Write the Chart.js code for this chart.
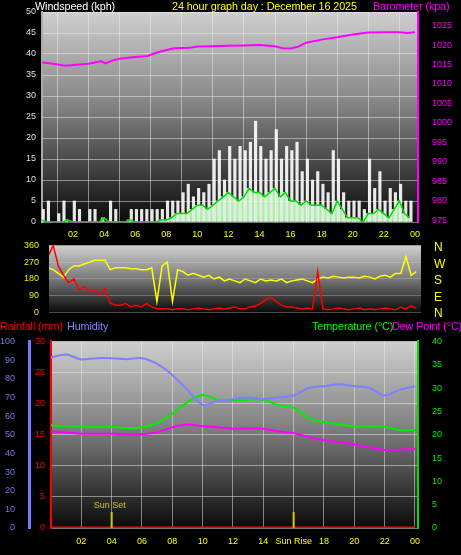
<!DOCTYPE html>
<html><head><meta charset="utf-8">
<script src="https://cdn.jsdelivr.net/npm/chart.js@4"></script>
<style>
body{margin:0;background:#000;width:461px;height:555px;overflow:hidden;font-family:"Liberation Sans",Arial,sans-serif}
canvas{position:absolute;left:0}
.t{position:absolute;font-size:10.8px;white-space:nowrap;line-height:12px;letter-spacing:-0.1px}
</style></head><body>
<canvas id="c1" width="461" height="244" style="top:0"></canvas>
<canvas id="c2" width="461" height="98" style="top:230px"></canvas>
<canvas id="c3" width="461" height="225" style="top:330px"></canvas>
<div class="t" style="left:35px;top:0;color:#fff">Windspeed (kph)</div>
<div class="t" style="left:172px;top:0;color:#ff0">24 hour graph day : December 16 2025</div>
<div class="t" style="left:373px;top:0;color:#f0f">Barometer (kpa)</div>
<div class="t" style="left:0;top:320px;color:#f00">Rainfall (mm)</div>
<div class="t" style="left:67px;top:320px;color:#88f">Humidity</div>
<div class="t" style="left:312px;top:320px;color:#0f0">Temperature (°C)</div>
<div class="t" style="left:392px;top:320px;color:#f0f">Dew Point (°C)</div>
<div class="t" style="left:434px;top:239px;color:#ff0;font-size:12px;line-height:16.5px">N<br>W<br>S<br>E<br>N</div>
<script>
// ---- data (20-minute steps from hour 0) ----
const windGust = [3,5,0, 2,5,0, 5,3,0, 3,3,0, 0,5,3, 0,0,3, 3,3,3, 3,3,3, 5,5,5, 7,9,6, 8,7,9, 15,17,10, 18,15,18, 17,19,24, 18,15,17, 22,15,18, 17,19,12, 15,10,12, 9,7,17, 15,7,5, 5,5,3, 15,8,12, 5,8,7, 9,5,5];
const windAvg = [0.5,0,0, 0,0,0.5, 0,0,0, 0,0,0, 1,0,0, 0,0,0.5, 0,0,0, 0,0,0.5, 0.5,1,2, 2,2,3, 4,4,3, 4,5,6, 7,6,5, 6,8,7, 7,6,7, 8,6,7, 5,5,4, 5,4,4, 4,3,2, 5,3,1, 1,1,0, 2,2,3, 2,1,3, 5,2,1];
const baroHours = [0,0.5,1,1.5,2,3,3.8,4.1,4.5,5,6,6.8,7,7.5,8.5,9.5,10,11,12,13,14,15,15.5,16,16.5,17,18,19,20,21,22,23,23.5,24];
const baroVals = [1015.5,1015.3,1015,1014.7,1014.9,1015.2,1015.8,1015.3,1016,1016.5,1016.9,1017.2,1017.5,1018.2,1019.2,1019.3,1019.6,1019.7,1019.8,1019.9,1020,1019.7,1019.2,1019.1,1019.6,1020.6,1021.4,1022,1022.7,1023.2,1023.3,1023.3,1023.1,1023.3];
const windDir = [280,240,230, 210,190,230, 250,250,260, 270,280,280, 280,230,240, 240,240,235, 235,230,230, 240,60,250, 270,60,230, 220,200,210, 200,190,200, 180,190,170, 180,170,160, 180,170,160, 180,170,175, 170,180,160, 170,175,180, 170,160,180, 190,185,195, 190,185,190, 190,185,195, 190,180,195, 200,190,210, 210,300,200, 220];
const windRed = [150,300,360, 250,200,160, 180,120,140, 110,120,100, 130,50,40, 40,50,30, 40,30,50, 30,20,20, 20,15,20, 20,15,20, 25,20,15, 20,25,20, 25,30,20, 20,30,35, 50,70,80, 60,40,30, 30,25,20, 25,20,220, 20,15,20, 25,20,15, 20,25,15, 20,15,20, 25,20,15, 30,20,35, 25];
const hrs = [0,1,2,3,4,5,6,7,8,9,10,11,12,13,14,15,16,17,18,19,20,21,22,23,24];
const humidity = [91.4,93,90.3,91,91,90.5,91,88,82,74,66,68,69,70,69,70,71,75,76,77,76,75,71,74,76];
const temperature = [22,21.8,21.7,21.7,21.7,21.4,21.6,22.5,24.5,27,28.5,27.5,27.3,27.5,27.5,26.3,25.8,23.5,22.7,22.2,21.8,21.8,21.7,21,21];
const dewPoint = [20.7,20.5,20.2,20.2,20.2,20.1,20.1,20.5,21.6,22.2,21.8,21.6,21.3,21.4,21.3,20.7,20.3,19.5,18.8,18.4,17.9,17.3,16.7,16.8,17];
const rainfall = [0,0,0,0,0,0,0,0,0,0,0,0,0,0,0,0,0,0,0,0,0,0,0,0,0];
const sunEvents = [{h:4,label:'Sun Set'},{h:16,label:'Sun Rise'}];

const pts = (arr, step, off=0) => arr.map((v,i)=>({x:off+i*step,y:v}));
const pairs = (xs, ys) => xs.map((x,i)=>({x, y:ys[i]}));
const F = {family:'"Liberation Sans",Arial,sans-serif', size:9};
const grid = {color:'rgba(235,235,235,0.5)', lineWidth:1, drawTicks:false};
const bgPlugin = {id:'bg', beforeDraw(c){const a=c.chartArea,x=c.ctx;const g=x.createLinearGradient(0,a.top,0,a.bottom);
 g.addColorStop(0,'#cfcfcf');g.addColorStop(0.45,'#828282');g.addColorStop(1,'#0a0a0a');x.save();x.fillStyle=g;x.fillRect(a.left,a.top,a.right-a.left,a.bottom-a.top);x.restore();}};
const hourLabel = v => { if (v<=0.01) return ''; const h=Math.round(v)%24; return (h<10?'0':'')+h; };
function xAxis(min,max,extra){return Object.assign({type:'linear',min,max,position:'bottom',offset:false,
  afterBuildTicks(s){s.ticks=[2,4,6,8,10,12,14,16,18,20,22,24].map(v=>({value:v}));},
  ticks:{color:'#ff0',font:F,padding:7,callback:hourLabel,maxRotation:0,autoSkip:false},
  grid:grid,border:{display:false}},extra||{});}
function fixW(w){return s=>{s.width=w;};}
function fixH(h){return s=>{s.height=h;};}
const base = {responsive:false,animation:false,plugins:{legend:{display:false},tooltip:{enabled:false}},layout:{padding:0}};

// ---- top panel ----
new Chart(document.getElementById('c1'),{
 data:{datasets:[
  {type:'line',data:pairs(baroHours,baroVals),yAxisID:'yb',borderColor:'#f0f',borderWidth:2,pointRadius:0,tension:0},
  {type:'line',data:pts(windAvg,1/3),yAxisID:'y',borderColor:'#00dd00',borderWidth:1.5,pointRadius:0},
  {type:'bar',data:pts(windAvg,1/3),yAxisID:'y',backgroundColor:'rgba(200,255,200,0.9)',barThickness:3},
  {type:'bar',data:pts(windGust,1/3),yAxisID:'y',backgroundColor:'rgba(255,255,255,0.9)',barThickness:2.5}
 ]},
 options:Object.assign({},base,{layout:{padding:{top:12}},scales:{
  x:xAxis(0,24.2,{afterFit:fixH(22)}),
  y:{position:'left',min:0,max:50,afterFit:fixW(42),ticks:{stepSize:5,color:'#dde',font:F,padding:6},grid:grid,border:{color:'#aaa',width:2}},
  yb:{position:'right',min:974.5,max:1028.5,afterFit:fixW(43),afterBuildTicks(s){s.ticks=[975,980,985,990,995,1000,1005,1010,1015,1020,1025].map(v=>({value:v}));},ticks:{color:'#f0f',font:F,padding:6,callback:v=>String(v)},grid:{display:false},border:{color:'#f0f',width:2}}
 }}),plugins:[bgPlugin]});

// ---- middle panel ----
new Chart(document.getElementById('c2'),{
 data:{datasets:[
  {type:'line',data:pts(windRed,1/3),borderColor:'#f00',borderWidth:1.5,pointRadius:0},
  {type:'line',data:pts(windDir,1/3),borderColor:'#ff0',borderWidth:1.5,pointRadius:0}
 ]},
 options:Object.assign({},base,{layout:{padding:{top:4,bottom:2}},scales:{
  x:{type:'linear',min:0.4,max:24.3,display:false},
  y:{min:0,max:360,afterFit:fixW(49),afterBuildTicks(s){s.ticks=[0,90,180,270,360].map(v=>({value:v}));},ticks:{color:'#ee0',font:F,padding:10},grid:Object.assign({},grid,{color:'rgba(200,200,200,0.35)'}),border:{display:false}},
  yr:{position:'right',min:0,max:360,afterFit:fixW(40),ticks:{display:false},grid:{display:false},border:{display:false}}
 }}),plugins:[bgPlugin]});

// ---- bottom panel ----
const sunPlugin={id:'sun',afterDatasetsDraw(c){const x=c.ctx,s=c.scales.x,a=c.chartArea;x.save();x.strokeStyle='#cc0';x.lineWidth=2;x.fillStyle='#cc0';x.font='9px "Liberation Sans",Arial';x.textAlign='center';
 sunEvents.forEach(e=>{const px=s.getPixelForValue(e.h);x.beginPath();x.moveTo(px,a.bottom);x.lineTo(px,a.bottom-16);x.stroke();if(e.label==='Sun Set')x.fillText(e.label,px-2,a.bottom-20);});x.restore();}};
new Chart(document.getElementById('c3'),{
 data:{datasets:[
  {type:'line',data:pairs(hrs,humidity),yAxisID:'yh',borderColor:'#7f7fff',borderWidth:2,pointRadius:0,tension:0.3},
  {type:'line',data:pairs(hrs,temperature),yAxisID:'yt',borderColor:'#00ee00',borderWidth:2,pointRadius:0,tension:0.3},
  {type:'line',data:pairs(hrs,dewPoint),yAxisID:'yt',borderColor:'#f0f',borderWidth:2,pointRadius:0,tension:0.3},
  {type:'line',data:pairs(hrs,rainfall),yAxisID:'yr',borderColor:'#f00',borderWidth:3,pointRadius:0}
 ]},
 options:Object.assign({},base,{layout:{padding:{top:3}},scales:{
  x:xAxis(0,24.2,{afterFit:fixH(27),ticks:{color:'#ff0',font:F,padding:8,maxRotation:0,autoSkip:false,callback:v=>Math.round(v)===16?'Sun Rise':hourLabel(v)}}),
  yh:{position:'left',weight:1,min:0,max:100,afterFit:fixW(29),ticks:{stepSize:10,color:'#77e',font:F,padding:6},grid:{display:false},border:{color:'#77f',width:3}},
  yr:{position:'left',weight:0,min:0,max:30,afterFit:fixW(22),ticks:{stepSize:5,color:'#f00',font:F,padding:6},grid:grid,border:{color:'#f00',width:2}},
  yt:{position:'right',min:0,max:40,afterFit:fixW(43),ticks:{stepSize:5,color:'#0e0',font:F,padding:6},grid:{display:false},border:{color:'#0d0',width:2}}
 }}),plugins:[bgPlugin,sunPlugin]});
</script></body></html>
